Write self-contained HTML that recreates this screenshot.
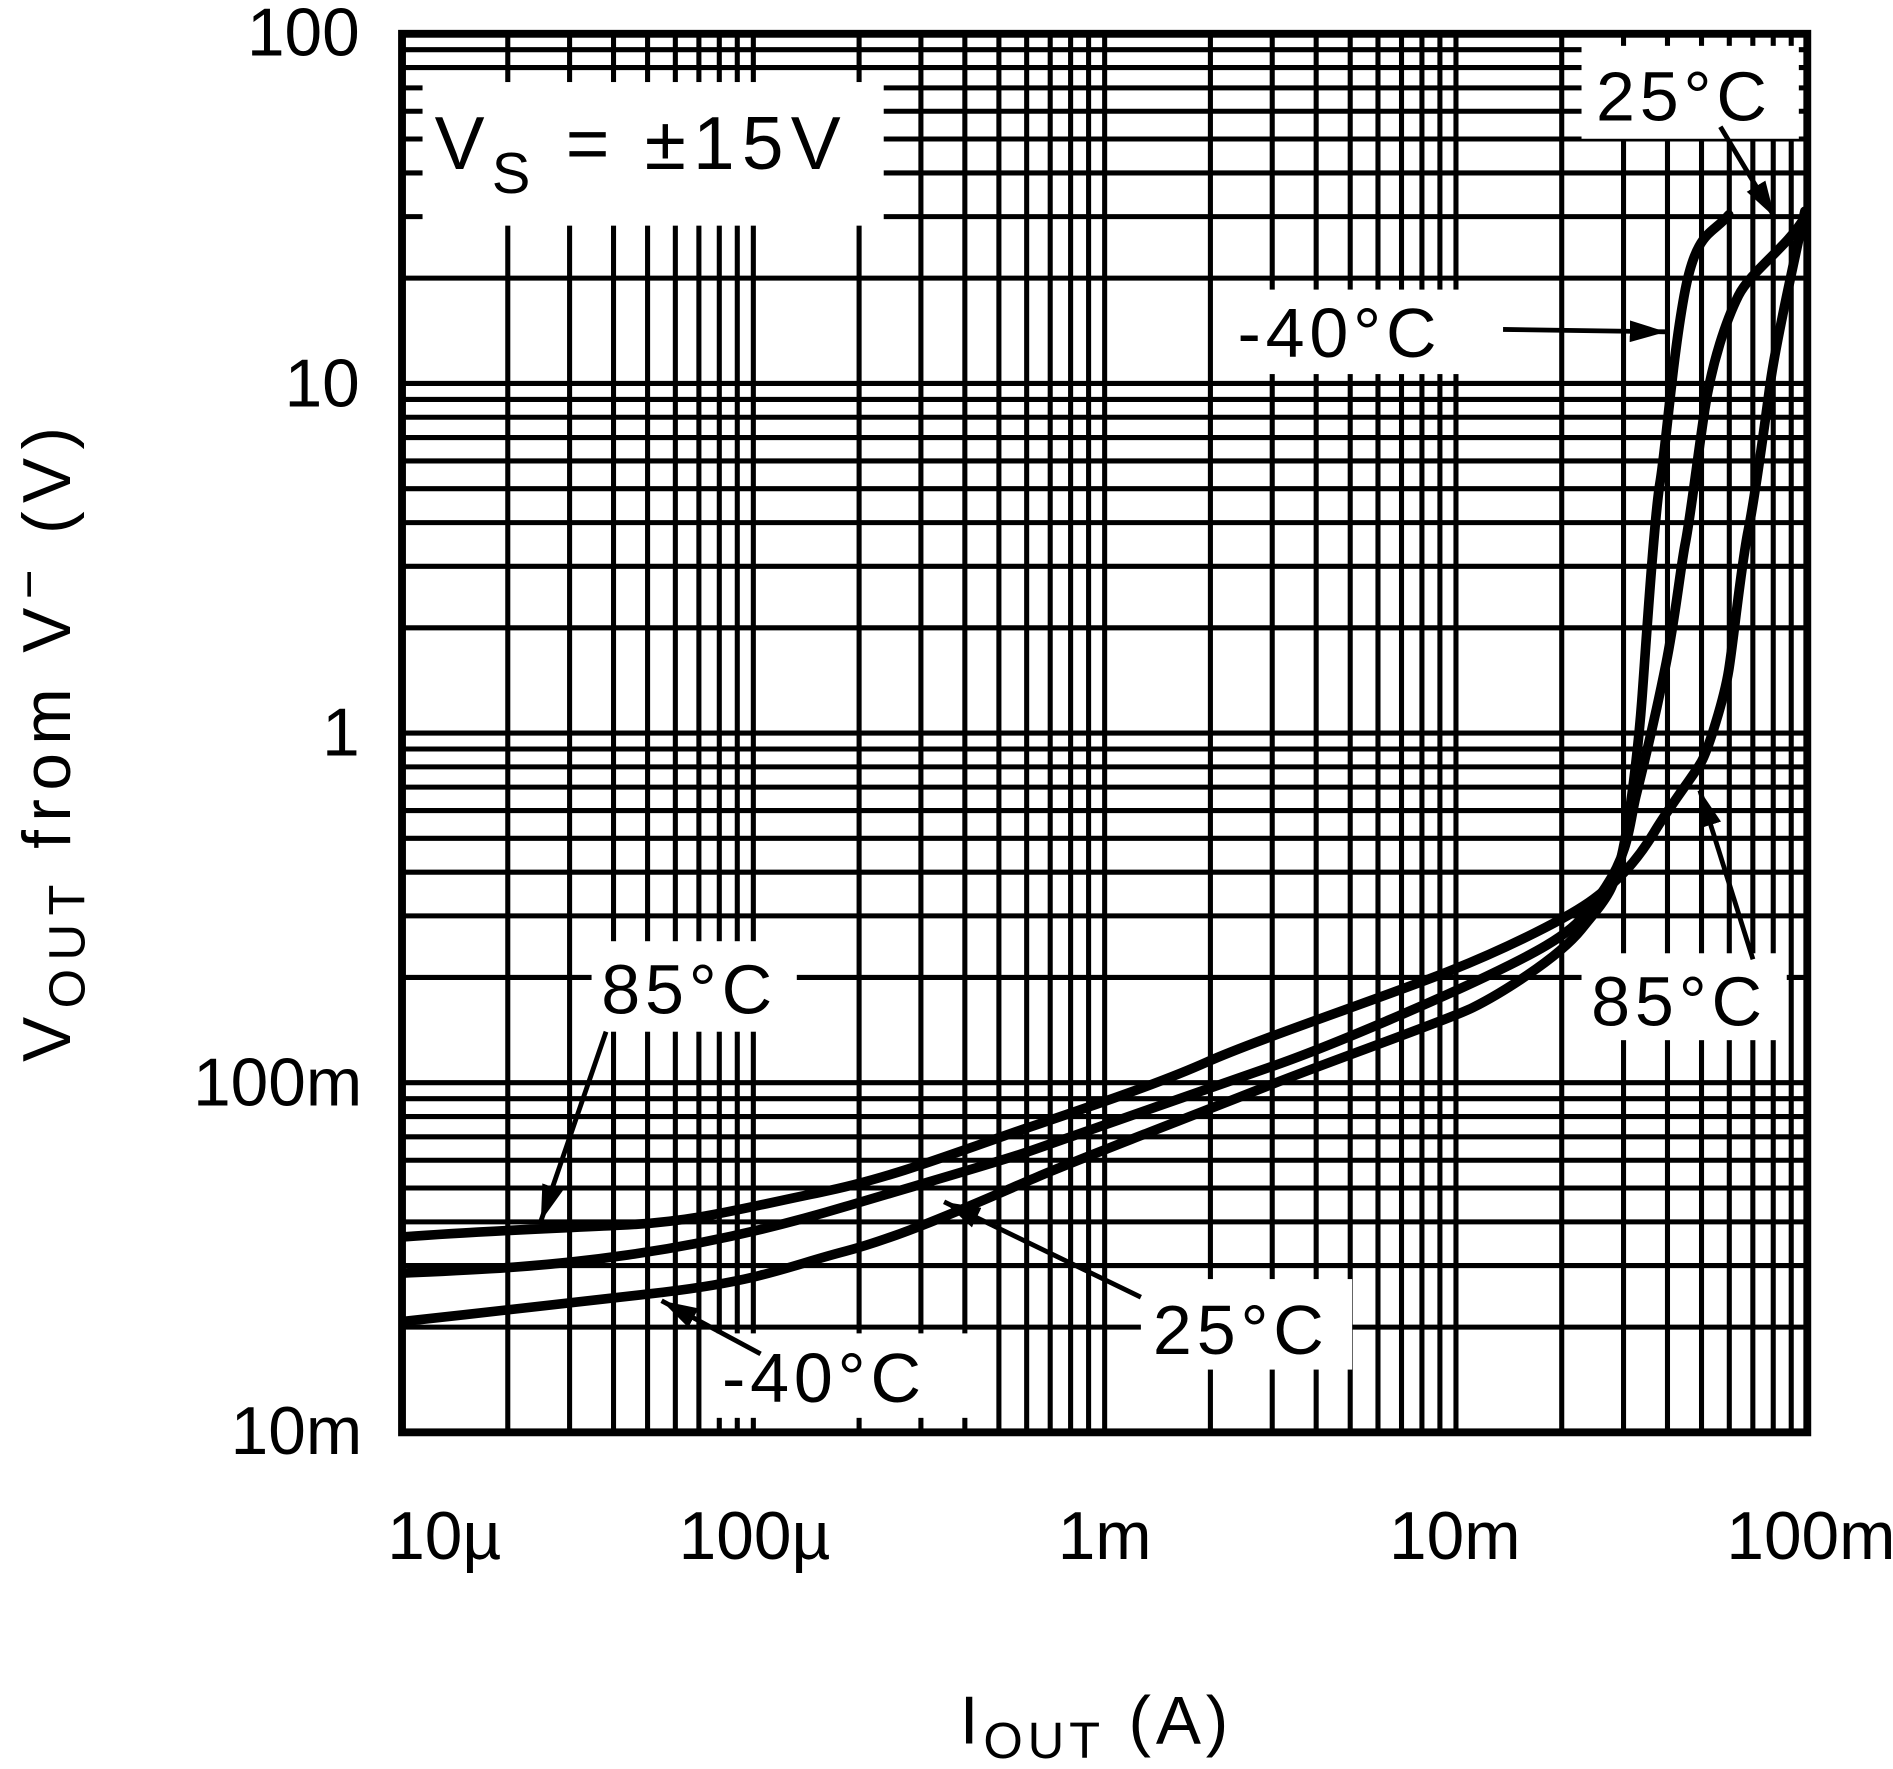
<!DOCTYPE html>
<html><head><meta charset="utf-8"><style>html,body{margin:0;padding:0;background:#fff}svg{display:block}</style></head>
<body>
<svg width="1893" height="1769" viewBox="0 0 1568 1466" preserveAspectRatio="none" xmlns="http://www.w3.org/2000/svg">
<defs>
<marker id="a2" viewBox="0 0 10 6" refX="10" refY="3" markerWidth="30" markerHeight="18" orient="auto" markerUnits="userSpaceOnUse"><path d="M0,0L10,3L0,6z" fill="#000"/></marker></defs>
<rect width="1568" height="1466" fill="#fff"/>
<g stroke="#000" stroke-width="4.2" fill="none">
<path d="M420.6,28V1187M471.8,28V1187M508.2,28V1187M536.4,28V1187M559.4,28V1187M578.9,28V1187M595.8,28V1187M610.7,28V1187M624,28V1187M711.6,28V1187M762.8,28V1187M799.2,28V1187M827.4,28V1187M850.4,28V1187M869.9,28V1187M886.8,28V1187M901.7,28V1187M915,28V1187M1002.6,28V1187M1053.8,28V1187M1090.2,28V1187M1118.4,28V1187M1141.4,28V1187M1160.9,28V1187M1177.8,28V1187M1192.7,28V1187M1206,28V1187M1293.6,28V1187M1344.8,28V1187M1381.2,28V1187M1409.4,28V1187M1432.4,28V1187M1451.9,28V1187M1468.8,28V1187M1483.7,28V1187"/>
<path d="M333,1099.8H1497M333,1048.8H1497M333,1012.6H1497M333,984.5H1497M333,961.5H1497M333,942.1H1497M333,925.3H1497M333,910.5H1497M333,897.25H1497M333,810H1497M333,759H1497M333,722.8H1497M333,694.7H1497M333,671.7H1497M333,652.3H1497M333,635.5H1497M333,620.7H1497M333,607.5H1497M333,520.3H1497M333,469.3H1497M333,433.1H1497M333,405H1497M333,382H1497M333,362.6H1497M333,345.8H1497M333,331H1497M333,317.75H1497M333,230.5H1497M333,179.5H1497M333,143.3H1497M333,115.2H1497M333,92.2H1497M333,72.8H1497M333,56H1497M333,41.2H1497"/>
</g>
<g fill="#fff">
<rect x="350" y="68" width="382" height="119"/>
<rect x="1310" y="38" width="180" height="77"/>
<rect x="1020" y="240" width="225" height="70"/>
<rect x="490" y="780" width="170" height="75"/>
<rect x="1310" y="790" width="170" height="72"/>
<rect x="945" y="1060" width="175" height="75"/>
<rect x="590" y="1105" width="225" height="70"/>
</g>
<rect x="333" y="28" width="1164" height="1159" fill="none" stroke="#000" stroke-width="6.5"/>
<g stroke="#000" stroke-width="8" fill="none" stroke-linejoin="round" stroke-linecap="round">
<path d="M335,1025 C400,1020 460,1018 520,1015 S620,1000 680,988 S800,952 850,935 S960,898 1000,880 S1150,825 1200,805 S1300,760 1320,745 S1355,715 1370,690 S1405,640 1410,630 S1428,580 1432,555 S1442,470 1448,440 S1462,350 1466,320 S1482,235 1495,175"/>
<path d="M335,1055 C400,1052 450,1050 520,1040 S650,1015 700,1000 S820,965 850,955 S1000,902 1050,885 S1200,825 1250,800 S1310,765 1330,735 S1350,680 1355,660 S1372,590 1380,550 S1392,470 1396,450 S1406,380 1412,340 S1430,265 1440,245 S1480,205 1495,180"/>
<path d="M335,1095 C400,1088 450,1082 540,1072 S650,1050 700,1037 S820,992 860,975 S1000,920 1050,900 S1200,845 1220,835 S1290,795 1310,770 S1336,740 1343,710 S1357,620 1360,580 S1370,430 1375,400 S1385,300 1395,245 S1418,195 1432,178"/>
</g>
<g stroke="#000" stroke-width="4" fill="none">
<line x1="1425" y1="105" x2="1470" y2="180" marker-end="url(#a2)"/>
<line x1="1245" y1="273" x2="1380" y2="275" marker-end="url(#a2)"/>
<line x1="502" y1="855" x2="448" y2="1012" marker-end="url(#a2)"/>
<line x1="1452" y1="795" x2="1408" y2="655" marker-end="url(#a2)"/>
<line x1="945" y1="1075" x2="782" y2="996" marker-end="url(#a2)"/>
<line x1="630" y1="1122" x2="548" y2="1078" marker-end="url(#a2)"/>
</g>
<g font-family="Liberation Sans, sans-serif" font-size="56" fill="#000">
<g text-anchor="end">
<text x="298" y="46">100</text><text x="298" y="337">10</text><text x="298" y="626">1</text><text x="300" y="916">100m</text><text x="300" y="1205">10m</text>
</g>
<g text-anchor="middle">
<text x="368" y="1292">10µ</text><text x="625" y="1292">100µ</text><text x="915" y="1292">1m</text><text x="1205" y="1292">10m</text><text x="1500" y="1292">100m</text>
</g>
<text x="795" y="1445" letter-spacing="4">I<tspan font-size="42" dy="12">OUT</tspan><tspan dy="-12"> (A)</tspan></text>
<text transform="translate(58,880) rotate(-90)" letter-spacing="7">V<tspan font-size="42" dy="12">OUT</tspan><tspan dy="-12"> from V</tspan><tspan font-size="42" dy="-20">−</tspan><tspan dy="20"> (V)</tspan></text>
<text x="360" y="140" font-size="62" letter-spacing="6">V<tspan font-size="48" dy="20">S</tspan><tspan dy="-20"> = ±15V</tspan></text>
<g font-size="58" letter-spacing="4">
<text x="1322" y="100">25°C</text>
<text x="1025" y="296">-40°C</text>
<text x="498" y="840">85°C</text>
<text x="1318" y="850">85°C</text>
<text x="955" y="1122">25°C</text>
<text x="598" y="1162">-40°C</text>
</g>
</g>
</svg>
</body></html>
